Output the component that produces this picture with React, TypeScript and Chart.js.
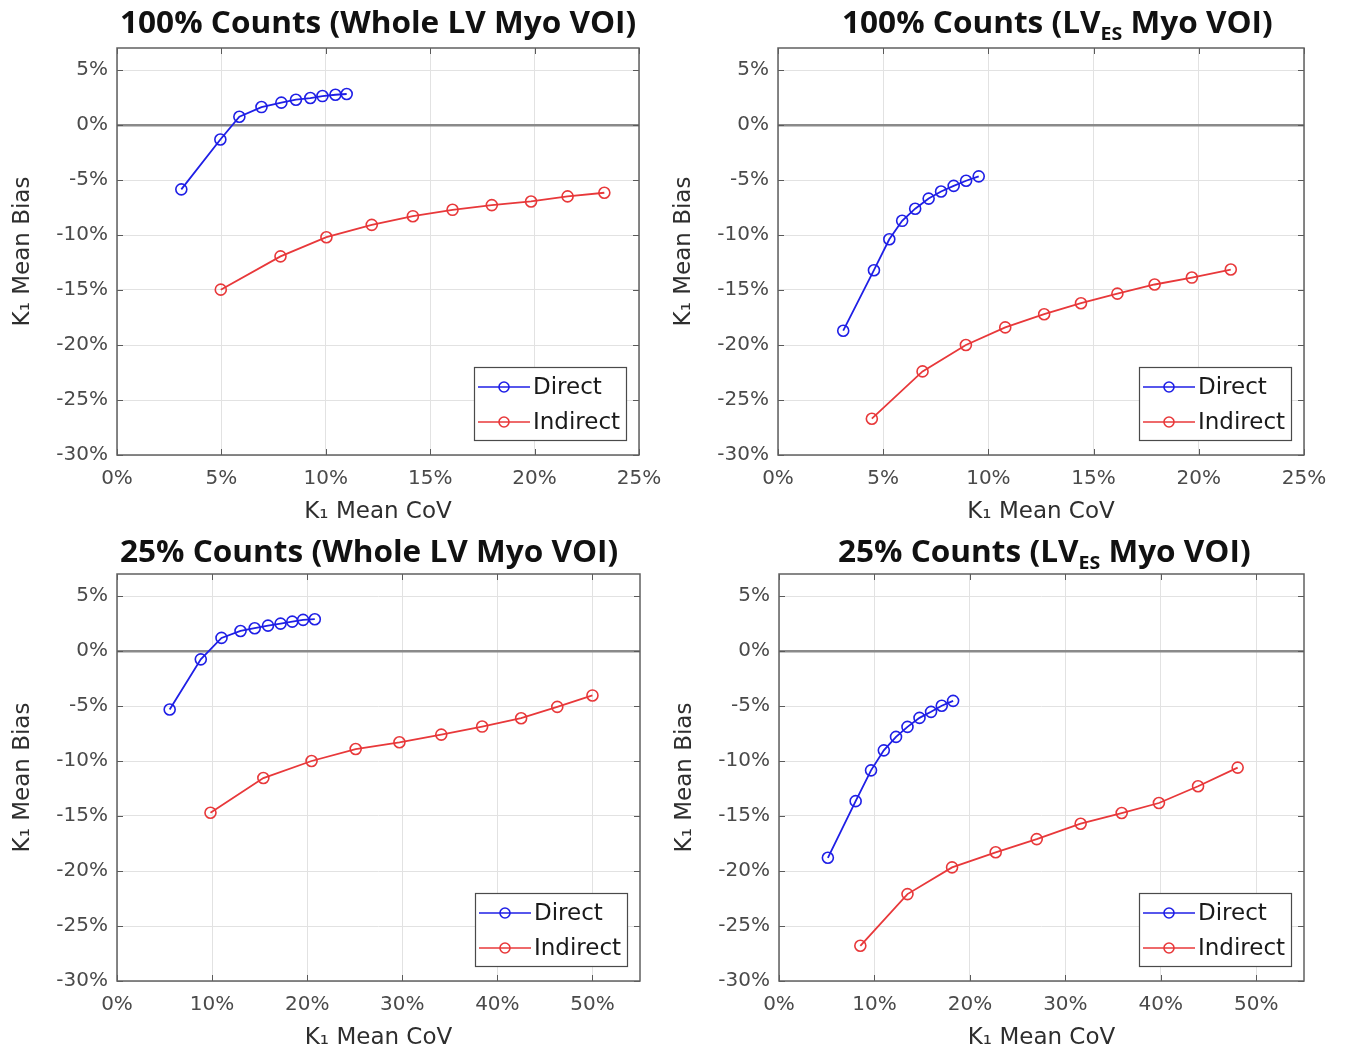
import React, { useEffect, useRef } from 'react';
import { Chart, registerables } from 'chart.js';

Chart.register(...registerables);

// ---------- data (percent) ----------
// 100% counts, whole LV myo VOI
const full_whole_directCoV = [3.08, 4.95, 5.86, 6.92, 7.87, 8.57, 9.26, 9.84, 10.46, 11.0];
const full_whole_directBias = [-5.85, -1.32, 0.75, 1.63, 2.03, 2.3, 2.45, 2.63, 2.75, 2.82];
const full_whole_indirectCoV = [4.97, 7.83, 10.03, 12.2, 14.17, 16.07, 17.95, 19.83, 21.58, 23.34];
const full_whole_indirectBias = [-14.97, -11.94, -10.2, -9.08, -8.29, -7.71, -7.28, -6.95, -6.49, -6.16];

// 100% counts, LV_ES myo VOI
const full_es_directCoV = [3.1, 4.56, 5.29, 5.9, 6.52, 7.16, 7.75, 8.35, 8.94, 9.54];
const full_es_directBias = [-18.7, -13.2, -10.39, -8.71, -7.61, -6.69, -6.05, -5.53, -5.07, -4.67];
const full_es_indirectCoV = [4.46, 6.87, 8.93, 10.8, 12.65, 14.4, 16.13, 17.9, 19.67, 21.52];
const full_es_indirectBias = [-26.7, -22.4, -20.0, -18.4, -17.2, -16.2, -15.33, -14.5, -13.87, -13.14];

// 25% counts, whole LV myo VOI
const quarter_whole_directCoV = [5.54, 8.81, 10.99, 12.99, 14.48, 15.88, 17.2, 18.43, 19.57, 20.8];
const quarter_whole_directBias = [-5.32, -0.76, 1.19, 1.82, 2.07, 2.31, 2.49, 2.67, 2.83, 2.89];
const quarter_whole_indirectCoV = [9.83, 15.39, 20.46, 25.1, 29.7, 34.1, 38.4, 42.5, 46.3, 50.0];
const quarter_whole_indirectBias = [-14.7, -11.55, -10.0, -8.91, -8.3, -7.6, -6.87, -6.11, -5.08, -4.04];

// 25% counts, LV_ES myo VOI
const quarter_es_directCoV = [5.12, 8.03, 9.64, 10.98, 12.26, 13.46, 14.72, 15.93, 17.05, 18.24];
const quarter_es_directBias = [-18.8, -13.65, -10.85, -9.03, -7.81, -6.9, -6.08, -5.53, -4.98, -4.53];
const quarter_es_indirectCoV = [8.52, 13.46, 18.13, 22.7, 27.0, 31.6, 35.9, 39.8, 43.9, 48.05];
const quarter_es_indirectBias = [-26.8, -22.1, -19.67, -18.3, -17.1, -15.7, -14.73, -13.82, -12.3, -10.6];

// tick labels / axis limits
const yTickValues = [-30, -25, -20, -15, -10, -5, 0, 5];
const yLimits = [-30, 7];
const xTickValuesFull = [0, 5, 10, 15, 20, 25];
const xLimitsFull = [0, 25];
const xTickValuesQuarter = [0, 10, 20, 30, 40, 50];
const xLimitsQuarter = [0, 55];

const seriesNames = ['Direct', 'Indirect'];
const xAxisTitle = 'K\u2081 Mean CoV';
const yAxisTitle = 'K\u2081 Mean Bias';

const BLUE = '#1f1fe6';
const RED = '#e8383a';
const AXIS_FONT = '"DejaVu Sans", "Liberation Sans", Arial, sans-serif';

const Y_AXIS_W = 117;
const X_AXIS_H = 74;
const PAD_TOP = 10;
const PAD_RIGHT = 26;

type PanelCfg = {
  area: { left: number; top: number; right: number; bottom: number };
  dx: number[]; dy: number[]; ix: number[]; iy: number[];
  xTicks: number[]; xLim: number[];
};

const boxPlugin = {
  id: 'matlabBox',
  afterDraw(chart: any) {
    const ctx = chart.ctx;
    const { left, right, top, bottom } = chart.chartArea;
    const xs = chart.scales.x;
    const ys = chart.scales.y;
    ctx.save();
    ctx.strokeStyle = '#5a5a5a';
    ctx.lineWidth = 1;
    const tl = 6;
    ctx.beginPath();
    xs.ticks.forEach((t: any) => {
      const p = Math.round(xs.getPixelForValue(t.value)) + 0.5;
      ctx.moveTo(p, bottom); ctx.lineTo(p, bottom - tl);
      ctx.moveTo(p, top); ctx.lineTo(p, top + tl);
    });
    ys.ticks.forEach((t: any) => {
      const p = Math.round(ys.getPixelForValue(t.value)) + 0.5;
      ctx.moveTo(left, p); ctx.lineTo(left + tl, p);
      ctx.moveTo(right, p); ctx.lineTo(right - tl, p);
    });
    ctx.stroke();
    ctx.lineWidth = 1.5;
    ctx.strokeStyle = '#606060';
    ctx.strokeRect(left, top, right - left, bottom - top);

    // legend box (lower right, inside axes)
    const bw = 152, bh = 73;
    const bx = right - 13 - bw;
    const by = bottom - 15 - bh;
    ctx.fillStyle = '#ffffff';
    ctx.fillRect(bx, by, bw, bh);
    ctx.lineWidth = 1.2;
    ctx.strokeStyle = '#4a4a4a';
    ctx.strokeRect(bx + 0.5, by + 0.5, bw, bh);
    const ds = chart.data.datasets;
    ds.forEach((d: any, i: number) => {
      const cy = by + 20 + i * 35;
      ctx.strokeStyle = d.borderColor;
      ctx.lineWidth = 1.6;
      ctx.beginPath();
      ctx.moveTo(bx + 4, cy); ctx.lineTo(bx + 56, cy);
      ctx.stroke();
      ctx.beginPath();
      ctx.arc(bx + 30, cy, 5, 0, Math.PI * 2);
      ctx.stroke();
      ctx.fillStyle = '#1a1a1a';
      ctx.font = `23px ${AXIS_FONT}`;
      ctx.textBaseline = 'middle';
      ctx.textAlign = 'left';
      ctx.fillText(d.label, bx + 59, cy + 1);
    });
    ctx.restore();
  },
};

const zeroPadding = (s: any) => {
  s.paddingTop = 0;
  s.paddingBottom = 0;
  s.paddingLeft = 0;
  s.paddingRight = 0;
};

function Panel({ cfg }: { cfg: PanelCfg }) {
  const ref = useRef<HTMLCanvasElement>(null);
  const { area } = cfg;
  const canvasLeft = area.left - Y_AXIS_W;
  const canvasTop = area.top - PAD_TOP;
  const W = area.right - canvasLeft + PAD_RIGHT;
  const H = area.bottom - canvasTop + X_AXIS_H;

  useEffect(() => {
    const mk = (xs: number[], ys: number[]) => xs.map((x, i) => ({ x, y: ys[i] }));
    const chart = new Chart(ref.current as HTMLCanvasElement, {
      type: 'scatter',
      data: {
        datasets: [
          {
            label: seriesNames[0],
            data: mk(cfg.dx, cfg.dy),
            showLine: true,
            borderColor: BLUE,
            backgroundColor: 'rgba(0,0,0,0)',
            borderWidth: 1.8,
            pointRadius: 5.5,
            pointBorderWidth: 1.6,
            pointBorderColor: BLUE,
            pointBackgroundColor: 'rgba(0,0,0,0)',
          },
          {
            label: seriesNames[1],
            data: mk(cfg.ix, cfg.iy),
            showLine: true,
            borderColor: RED,
            backgroundColor: 'rgba(0,0,0,0)',
            borderWidth: 1.8,
            pointRadius: 5.5,
            pointBorderWidth: 1.6,
            pointBorderColor: RED,
            pointBackgroundColor: 'rgba(0,0,0,0)',
          },
        ],
      },
      options: {
        animation: false,
        responsive: false,
        devicePixelRatio: 1,
        layout: { padding: { top: PAD_TOP, right: PAD_RIGHT, left: 0, bottom: 0 } },
        plugins: { legend: { display: false }, tooltip: { enabled: false } },
        scales: {
          x: {
            type: 'linear',
            min: cfg.xLim[0],
            max: cfg.xLim[1],
            afterBuildTicks: (s: any) => {
              s.ticks = cfg.xTicks.map((v) => ({ value: v }));
            },
            afterFit: (s: any) => { s.height = X_AXIS_H; zeroPadding(s); },
            border: { display: false },
            grid: { color: '#e2e2e2', lineWidth: 1, drawTicks: false },
            ticks: {
              padding: 12,
              color: '#4a4a4a',
              font: { family: AXIS_FONT, size: 20 },
              maxRotation: 0,
              callback: (v: any) => `${v}%`,
            },
            title: {
              display: true,
              text: xAxisTitle,
              color: '#2e2e2e',
              font: { family: AXIS_FONT, size: 23 },
              padding: { top: 0, bottom: 3 },
            },
          },
          y: {
            type: 'linear',
            min: yLimits[0],
            max: yLimits[1],
            afterBuildTicks: (s: any) => {
              s.ticks = yTickValues.map((v) => ({ value: v }));
            },
            afterFit: (s: any) => { s.width = Y_AXIS_W; zeroPadding(s); },
            border: { display: false },
            grid: {
              color: (c: any) => (c.tick && c.tick.value === 0 ? '#8a8a8a' : '#e2e2e2'),
              lineWidth: (c: any) => (c.tick && c.tick.value === 0 ? 2.5 : 1),
              drawTicks: false,
            },
            ticks: {
              padding: 9,
              color: '#4a4a4a',
              font: { family: AXIS_FONT, size: 20 },
              callback: (v: any) => `${v}%`,
            },
            title: {
              display: true,
              text: yAxisTitle,
              color: '#2e2e2e',
              font: { family: AXIS_FONT, size: 23 },
              padding: { top: 9, bottom: 0 },
            },
          },
        },
      },
      plugins: [boxPlugin],
    } as any);
    return () => chart.destroy();
  }, []);

  return (
    <canvas
      ref={ref}
      width={W}
      height={H}
      style={{ position: 'absolute', left: canvasLeft, top: canvasTop, width: W, height: H }}
    />
  );
}

const titleStyle: React.CSSProperties = {
  position: 'absolute',
  whiteSpace: 'nowrap',
  fontFamily: '"Open Sans", "Noto Sans", sans-serif',
  fontWeight: 700,
  fontSize: 30,
  lineHeight: '36px',
  color: '#111',
  zIndex: 2,
  transform: 'scaleX(1.052)',
  transformOrigin: 'left center',
};

function Title({ x, y, pre, sub, post }: { x: number; y: number; pre: string; sub?: string; post?: string }) {
  return (
    <div style={{ ...titleStyle, left: x, top: y }}>
      {pre}
      {sub ? (
        <span style={{ fontSize: '0.62em', position: 'relative', top: '0.35em' }}>{sub}</span>
      ) : null}
      {post}
    </div>
  );
}

const panels: PanelCfg[] = [
  {
    area: { left: 117, top: 48, right: 639, bottom: 455 },
    dx: full_whole_directCoV, dy: full_whole_directBias,
    ix: full_whole_indirectCoV, iy: full_whole_indirectBias,
    xTicks: xTickValuesFull, xLim: xLimitsFull,
  },
  {
    area: { left: 778, top: 48, right: 1304, bottom: 455 },
    dx: full_es_directCoV, dy: full_es_directBias,
    ix: full_es_indirectCoV, iy: full_es_indirectBias,
    xTicks: xTickValuesFull, xLim: xLimitsFull,
  },
  {
    area: { left: 117, top: 574, right: 640, bottom: 981 },
    dx: quarter_whole_directCoV, dy: quarter_whole_directBias,
    ix: quarter_whole_indirectCoV, iy: quarter_whole_indirectBias,
    xTicks: xTickValuesQuarter, xLim: xLimitsQuarter,
  },
  {
    area: { left: 779, top: 574, right: 1304, bottom: 981 },
    dx: quarter_es_directCoV, dy: quarter_es_directBias,
    ix: quarter_es_indirectCoV, iy: quarter_es_indirectBias,
    xTicks: xTickValuesQuarter, xLim: xLimitsQuarter,
  },
];

export default function App() {
  return (
    <div
      style={{
        position: 'fixed',
        left: 0,
        top: 0,
        width: 1350,
        height: 1062,
        background: '#ffffff',
        overflow: 'hidden',
      }}
    >
      {panels.map((p, i) => (
        <Panel key={i} cfg={p} />
      ))}
      <Title x={120} y={4} pre="100% Counts (Whole LV Myo VOI)" />
      <Title x={842} y={4} pre="100% Counts (LV" sub="ES" post=" Myo VOI)" />
      <Title x={120} y={533} pre="25% Counts (Whole LV Myo VOI)" />
      <Title x={838} y={533} pre="25% Counts (LV" sub="ES" post=" Myo VOI)" />
    </div>
  );
}
